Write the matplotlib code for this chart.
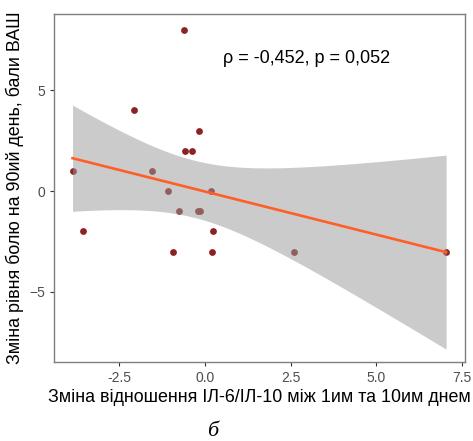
import matplotlib
matplotlib.use("Agg")
import matplotlib.pyplot as plt
import numpy as np

# change of IL-6/IL-10 ratio vs change in VAS pain score
ratio_change = np.array([-3.85, -3.55, -2.07, -1.55, -1.06, -0.74, -0.92, -0.61, -0.57,
                         -0.38, -0.18, -0.20, -0.14, 0.17, 0.24, 0.22, 2.60, 7.03])
pain_change = np.array([1, -2, 4, 1, 0, -1, -3, 8, 2, 2, 3, -1, -1, 0, -2, -3, -3, -3])

x_ticks = [-2.5, 0.0, 2.5, 5.0, 7.5]
y_ticks = [-5, 0, 5]
annotation = "ρ = -0,452, p = 0,052"
t_crit = 2.1199  # t(0.975, df=16)

plt.rcParams["font.family"] = ["Liberation Sans", "DejaVu Sans"]

fig = plt.figure(figsize=(4.73, 4.41), dpi=100)
ax = fig.add_axes([54 / 473, 1 - 362 / 441, 411 / 473, 348 / 441])

# linear fit with 95% confidence band
n = len(ratio_change)
slope, intercept = np.polyfit(ratio_change, pain_change, 1)
resid = pain_change - (intercept + slope * ratio_change)
s = np.sqrt(np.sum(resid ** 2) / (n - 2))
xm = ratio_change.mean()
sxx = np.sum((ratio_change - xm) ** 2)
grid = np.linspace(ratio_change.min(), ratio_change.max(), 80)
fit = intercept + slope * grid
half = t_crit * s * np.sqrt(1 / n + (grid - xm) ** 2 / sxx)

ax.scatter(ratio_change, pain_change, s=24, color="#8b2323", linewidths=0, zorder=2)
ax.fill_between(grid, fit - half, fit + half, color="#999999", alpha=0.5,
                linewidth=0, zorder=3)
ax.plot(grid, fit, color="#ff5f26", linewidth=1.9, zorder=4)

ax.text(0.52, 6.55, annotation, fontsize=13, ha="left", va="center")

ax.set_xlim(-4.39, 7.58)
ax.set_ylim(-8.48, 8.78)
ax.set_xticks(x_ticks)
ax.set_xticklabels([f"{v:.1f}" for v in x_ticks])
ax.set_yticks(y_ticks)
ax.tick_params(colors="#333333", labelcolor="#4d4d4d", labelsize=10, length=3, width=0.8)
for spine in ax.spines.values():
    spine.set_color("#7f7f7f")
    spine.set_linewidth(1.0)

ax.set_xlabel("Зміна відношення ІЛ-6/ІЛ-10 між 1им та 10им днем", fontsize=12.9, labelpad=3)
ax.set_ylabel("Зміна рівня болю на 90ий день, бали ВАШ", fontsize=12.9, labelpad=4)

fig.text(213 / 473, 1 - 431 / 441, "б", fontsize=16, style="italic",
         family=["Liberation Serif", "DejaVu Serif"], ha="center", va="center")

fig.savefig("out.png", dpi=100, facecolor="white")
